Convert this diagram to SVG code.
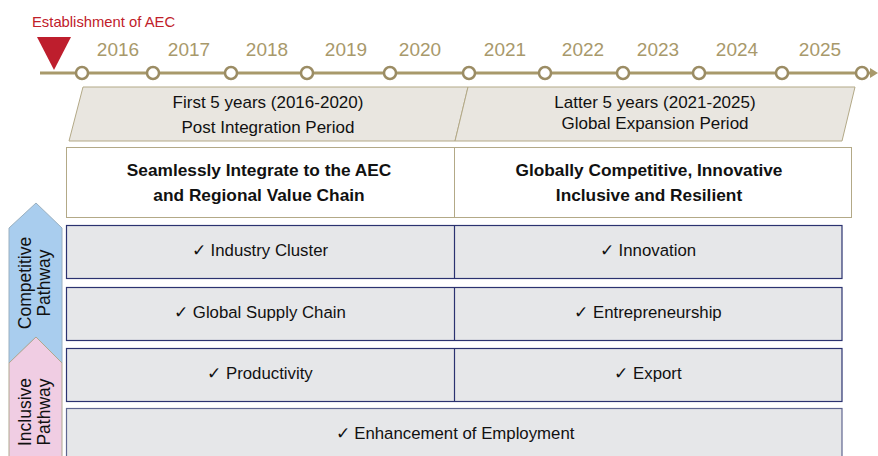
<svg xmlns="http://www.w3.org/2000/svg" width="878" height="456" viewBox="0 0 878 456">
<defs>
<style>
text{font-family:"Liberation Sans",Arial,sans-serif}
.yr{font-size:19px;fill:#a8996b;text-anchor:middle}
.dot{fill:#fff;stroke:#9b8c64;stroke-width:2.5}
.para{fill:#e9e6e0;stroke:#b3a987;stroke-width:1}
.pt{font-size:17px;fill:#111;text-anchor:middle}
.hd{font-size:17.3px;font-weight:bold;fill:#111;text-anchor:middle}
.row{fill:#e6e7e9;stroke:#2b3270;stroke-width:1.2}
.rt{font-size:16.8px;fill:#111;text-anchor:middle}
.side{font-size:17.5px;fill:#111;text-anchor:middle}
</style>
</defs>
<g id="timeline">
<text x="32" y="27" font-size="14.8" fill="#c0202a">Establishment of AEC</text>
<polygon points="37,37 71,37 54,70" fill="#be1e2d"/>
<line x1="40" y1="73" x2="872" y2="73" stroke="#a8996b" stroke-width="3"/>
<polygon points="870,68 878,73 870,78" fill="#a8996b"/>
<circle class="dot" cx="82" cy="73" r="6"/>
<circle class="dot" cx="153" cy="73" r="6"/>
<circle class="dot" cx="231" cy="73" r="6"/>
<circle class="dot" cx="307" cy="73" r="6"/>
<circle class="dot" cx="390" cy="73" r="6"/>
<circle class="dot" cx="469" cy="73" r="6"/>
<circle class="dot" cx="545" cy="73" r="6"/>
<circle class="dot" cx="623" cy="73" r="6"/>
<circle class="dot" cx="699" cy="73" r="6"/>
<circle class="dot" cx="782" cy="73" r="6"/>
<circle class="dot" cx="862" cy="73" r="6"/>
<text class="yr" x="118" y="56">2016</text>
<text class="yr" x="189" y="56">2017</text>
<text class="yr" x="267" y="56">2018</text>
<text class="yr" x="346" y="56">2019</text>
<text class="yr" x="420" y="56">2020</text>
<text class="yr" x="505" y="56">2021</text>
<text class="yr" x="583" y="56">2022</text>
<text class="yr" x="658" y="56">2023</text>
<text class="yr" x="737" y="56">2024</text>
<text class="yr" x="820" y="56">2025</text>
</g>
<g id="period1">
<polygon class="para" points="83,87 468,87 455,141 69,141"/>
<text class="pt" x="268" y="108">First 5 years (2016-2020)</text>
<text class="pt" x="268" y="133">Post Integration Period</text>
</g>
<g id="period2">
<polygon class="para" points="468,87 855,87 842,141 455,141"/>
<text class="pt" x="655" y="108">Latter 5 years (2021-2025)</text>
<text class="pt" x="655" y="129">Global Expansion Period</text>
</g>
<g id="goals">
<rect x="66.5" y="147.5" width="785" height="70" fill="#fff" stroke="#b3a987" stroke-width="1"/>
<line x1="454.5" y1="147.5" x2="454.5" y2="217.5" stroke="#b3a987" stroke-width="1"/>
<text class="hd" x="259" y="176">Seamlessly Integrate to the AEC</text>
<text class="hd" x="259" y="201">and Regional Value Chain</text>
<text class="hd" x="649" y="176">Globally Competitive, Innovative</text>
<text class="hd" x="649" y="201">Inclusive and Resilient</text>
</g>
<g id="competitive">
<polygon points="36,203 62,228 62,363 36,337 9,363 9,228" fill="#a9cdee" stroke="#9ab0c0" stroke-width="1"/>
<text class="side" transform="translate(31,283) rotate(-90)">Competitive</text>
<text class="side" transform="translate(50,283) rotate(-90)">Pathway</text>
</g>
<g id="inclusive">
<polygon points="36,337 62,363 62,460 9,460 9,363" fill="#f0cde3" stroke="#b0a890" stroke-width="1"/>
<text class="side" transform="translate(31,412) rotate(-90)">Inclusive</text>
<text class="side" transform="translate(50,412) rotate(-90)">Pathway</text>
</g>
<g id="row1">
<rect class="row" x="66.5" y="225.5" width="775.5" height="53"/>
<line x1="454.5" y1="225.5" x2="454.5" y2="278.5" stroke="#2b3270" stroke-width="1.2"/>
<text class="rt" x="260" y="256">✓ Industry Cluster</text>
<text class="rt" x="648" y="256">✓ Innovation</text>
</g>
<g id="row2">
<rect class="row" x="66.5" y="287.5" width="775.5" height="53"/>
<line x1="454.5" y1="287.5" x2="454.5" y2="340.5" stroke="#2b3270" stroke-width="1.2"/>
<text class="rt" x="260" y="318">✓ Global Supply Chain</text>
<text class="rt" x="648" y="318">✓ Entrepreneurship</text>
</g>
<g id="row3">
<rect class="row" x="66.5" y="348.5" width="775.5" height="53"/>
<line x1="454.5" y1="348.5" x2="454.5" y2="401.5" stroke="#2b3270" stroke-width="1.2"/>
<text class="rt" x="260" y="379">✓ Productivity</text>
<text class="rt" x="648" y="379">✓ Export</text>
</g>
<g id="row4">
<rect x="66.5" y="408.5" width="775.5" height="60" fill="#e6e7e9" stroke="#5f6690" stroke-width="1.2"/>
<text class="rt" x="455" y="439">✓ Enhancement of Employment</text>
</g>
</svg>
